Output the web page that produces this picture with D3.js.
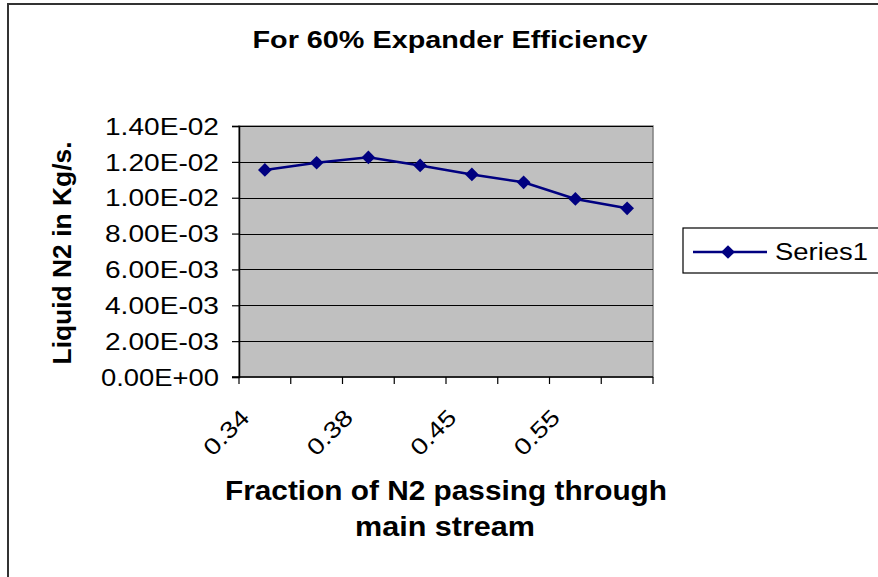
<!DOCTYPE html>
<html>
<head>
<meta charset="utf-8">
<script src="https://cdn.jsdelivr.net/npm/d3@7"></script>
<style>
  body { margin: 0; background: #fff; }
  svg { display: block; font-family: "Liberation Sans", Arial, sans-serif; }
</style>
</head>
<body>
<svg id="chart" width="878" height="577"></svg>
<script>
// category labels (only every second one is printed on the axis)
const categories = ['0.34', '0.36', '0.38', '0.42', '0.45', '0.5', '0.55', '0.6'];
// liquid N2 in kg/s
const series1 = [0.01155, 0.01195, 0.01225, 0.0118, 0.0113, 0.01086, 0.00993, 0.00941];
const yTicks = [0, 0.002, 0.004, 0.006, 0.008, 0.01, 0.012, 0.014];

const svg = d3.select('#chart');
const plot = { left: 239, right: 653, top: 126, bottom: 377 };

// outer chart frame (runs off the right and bottom edges)
svg.append('rect')
  .attr('x', 8).attr('y', 4)
  .attr('width', 900).attr('height', 620)
  .attr('fill', '#fff')
  .attr('stroke', '#333').attr('stroke-width', 2);

let x = d3.scaleBand()
  .domain(categories)
  .range([plot.left, plot.right]);
let y = d3.scaleLinear()
  .domain([0, 0.014])
  .range([plot.bottom, plot.top]);

// plot area
svg.append('rect')
  .attr('x', plot.left).attr('y', plot.top)
  .attr('width', plot.right - plot.left).attr('height', plot.bottom - plot.top)
  .attr('fill', '#c0c0c0')
  .attr('stroke', '#808080').attr('stroke-width', 1.5);

// gridlines
svg.append('g')
  .selectAll('line')
  .data(yTicks.filter(d => d > 0))
  .enter().append('line')
  .attr('x1', plot.left).attr('x2', plot.right)
  .attr('y1', d => Math.round(y(d)) + 0.5)
  .attr('y2', d => Math.round(y(d)) + 0.5)
  .attr('stroke', '#000').attr('stroke-width', 1);

// y axis
let yAxis = svg.append('g')
  .attr('transform', `translate(${plot.left},0)`)
  .call(d3.axisLeft(y).tickValues(yTicks).tickSize(7).tickPadding(0)
    .tickFormat(d => d.toExponential(2).replace(/e([+-])(\d)$/, 'E$10$2')));
yAxis.select('.domain').attr('stroke', '#000').attr('stroke-width', 1.5);
yAxis.selectAll('.tick line').attr('stroke', '#000').attr('stroke-width', 1.2);
yAxis.selectAll('.tick text')
  .attr('x', -20)
  .attr('dy', '0.36em')
  .attr('fill', '#000')
  .attr('textLength', d => d === 0 ? 118 : 114)
  .attr('lengthAdjust', 'spacingAndGlyphs')
  .style('font-size', '23px')
  .style('font-family', '"Liberation Sans", Arial, sans-serif');

// x axis: ticks on the band edges
let edges = categories.map(c => x(c)).concat([plot.right]);
let xAxis = svg.append('g');
xAxis.append('line')
  .attr('x1', plot.left - 7).attr('x2', plot.right)
  .attr('y1', plot.bottom).attr('y2', plot.bottom)
  .attr('stroke', '#000').attr('stroke-width', 1.5);
xAxis.selectAll('.xt')
  .data(edges)
  .enter().append('line')
  .attr('class', 'xt')
  .attr('x1', d => d).attr('x2', d => d)
  .attr('y1', plot.bottom).attr('y2', plot.bottom + 7)
  .attr('stroke', '#000').attr('stroke-width', 1.2);
xAxis.selectAll('.xl')
  .data(categories.filter((c, i) => i % 2 === 0))
  .enter().append('text')
  .attr('class', 'xl')
  .attr('transform', d => `translate(${x(d) + x.bandwidth() / 2 - 14},${plot.bottom + 42}) rotate(-45)`)
  .attr('text-anchor', 'end')
  .attr('textLength', 54)
  .attr('lengthAdjust', 'spacingAndGlyphs')
  .style('font-size', '23px')
  .text(d => d);

// series line and diamond markers
let line = d3.line()
  .x((d, i) => x(categories[i]) + x.bandwidth() / 2)
  .y(d => y(d));
svg.append('path')
  .datum(series1)
  .attr('d', line)
  .attr('fill', 'none')
  .attr('stroke', '#000080').attr('stroke-width', 2.5);

let diamond = d3.symbol().type(d3.symbolDiamond2).size(120);
svg.selectAll('.pt')
  .data(series1)
  .enter().append('path')
  .attr('class', 'pt')
  .attr('transform', (d, i) => `translate(${x(categories[i]) + x.bandwidth() / 2},${y(d)})`)
  .attr('d', diamond)
  .attr('fill', '#000080');

// titles
svg.append('text')
  .attr('x', 450).attr('y', 48)
  .attr('text-anchor', 'middle')
  .attr('textLength', 395).attr('lengthAdjust', 'spacingAndGlyphs')
  .style('font-size', '24px').style('font-weight', 'bold')
  .text('For 60% Expander Efficiency');

svg.append('text')
  .attr('transform', 'translate(71,253) rotate(-90)')
  .attr('text-anchor', 'middle')
  .attr('textLength', 223).attr('lengthAdjust', 'spacingAndGlyphs')
  .style('font-size', '25px').style('font-weight', 'bold')
  .text('Liquid N2 in Kg/s.');

svg.append('text')
  .attr('x', 446).attr('y', 500)
  .attr('text-anchor', 'middle')
  .attr('textLength', 442).attr('lengthAdjust', 'spacingAndGlyphs')
  .style('font-size', '27px').style('font-weight', 'bold')
  .text('Fraction of N2 passing through');
svg.append('text')
  .attr('x', 445).attr('y', 536)
  .attr('text-anchor', 'middle')
  .attr('textLength', 180).attr('lengthAdjust', 'spacingAndGlyphs')
  .style('font-size', '27px').style('font-weight', 'bold')
  .text('main stream');

// legend
let legend = svg.append('g');
legend.append('rect')
  .attr('x', 683).attr('y', 228)
  .attr('width', 220).attr('height', 45)
  .attr('fill', '#fff')
  .attr('stroke', '#000').attr('stroke-width', 1.2);
legend.append('line')
  .attr('x1', 693).attr('x2', 767)
  .attr('y1', 252).attr('y2', 252)
  .attr('stroke', '#000080').attr('stroke-width', 2.5);
legend.append('path')
  .attr('transform', 'translate(728,252)')
  .attr('d', diamond)
  .attr('fill', '#000080');
legend.append('text')
  .attr('x', 775).attr('y', 260)
  .attr('textLength', 93).attr('lengthAdjust', 'spacingAndGlyphs')
  .style('font-size', '23px')
  .text('Series1');
</script>
</body>
</html>
